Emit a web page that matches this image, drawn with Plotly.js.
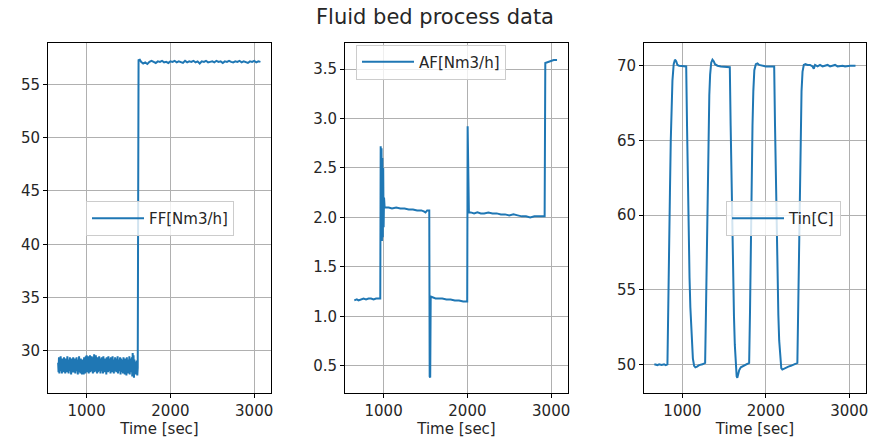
<!DOCTYPE html>
<html>
<head>
<meta charset="utf-8">
<script src="https://cdn.plot.ly/plotly-3.0.1.min.js"></script>
<style>html,body{margin:0;padding:0;background:#fff;}#chart{width:870px;height:438px;}</style>
</head>
<body>
<div id="chart"></div>
<script>
// ---- Data ----
const chartTitle = "Fluid bed process data";
const xAxisTitle = "Time [sec]";
const seriesNames = ["FF[Nm3/h]", "AF[Nm3/h]", "Tin[C]"];
const xTicks = [1000, 2000, 3000];

const ffTime = [
660,665,670,675,680,685,690,695,700,705,710,715,720,725,730,735,740,745,750,755,
760,765,770,775,780,785,790,795,800,805,810,815,820,825,830,835,840,845,850,855,
860,865,870,875,880,885,890,895,900,905,910,915,920,925,930,935,940,945,950,955,
960,965,970,975,980,985,990,995,1000,1005,1010,1015,1020,1025,1030,1035,1040,1045,1050,1055,
1060,1065,1070,1075,1080,1085,1090,1095,1100,1105,1110,1115,1120,1125,1130,1135,1140,1145,1150,1155,
1160,1165,1170,1175,1180,1185,1190,1195,1200,1205,1210,1215,1220,1225,1230,1235,1240,1245,1250,1255,
1260,1265,1270,1275,1280,1285,1290,1295,1300,1305,1310,1315,1320,1325,1330,1335,1340,1345,1350,1355,
1360,1365,1370,1375,1380,1385,1390,1395,1400,1405,1410,1415,1420,1425,1430,1435,1440,1445,1450,1455,
1460,1465,1470,1475,1480,1485,1490,1495,1500,1505,1510,1515,1520,1525,1530,1535,1540,1545,1550,1555,
1560,1565,1570,1575,1580,1585,1590,1595,1600,1605,1610,
1620,1635,1650,1675,1700,1725,1750,1775,1800,1825,1850,1875,1900,1925,1950,1975,2000,2025,2050,2075,2100,2125,2150,2175,2200,2225,2250,2275,2300,2325,2350,2375,2400,2425,2450,2475,2500,2525,2550,2575,2600,2625,2650,2675,2700,2725,2750,2775,2800,2825,2850,2875,2900,2925,2950,2975,3000,3025,3050,3075];
const ffValues = [
28.9,28.0,29.4,27.9,29.2,28.3,29.5,28.1,28.8,27.9,29.3,28.2,29.0,28.0,29.4,28.4,29.1,27.9,29.3,28.1,
28.8,28.0,29.5,28.3,29.0,27.9,29.2,28.1,29.4,28.2,28.9,27.8,29.3,28.0,29.1,28.4,29.4,28.0,28.9,28.2,
29.3,27.9,29.0,28.1,29.4,28.3,28.8,27.8,29.2,28.0,29.5,28.2,29.0,27.9,29.3,28.1,28.9,27.8,29.2,28.3,
29.0,27.8,29.4,28.1,28.8,27.9,29.5,28.2,29.6,28.0,29.3,28.3,29.5,27.9,29.1,28.2,29.6,28.0,29.2,28.1,
29.5,28.3,29.0,27.9,29.4,28.2,29.7,28.0,29.3,28.1,29.6,28.4,29.2,27.9,29.4,28.0,29.1,28.2,29.5,28.1,
29.3,27.9,29.0,28.3,29.4,28.1,29.2,27.9,29.5,28.2,29.0,28.0,29.3,28.3,29.1,27.8,29.4,28.2,29.2,28.0,
29.5,28.1,29.0,28.3,29.3,27.9,29.4,28.2,29.1,28.0,29.5,28.3,29.2,27.9,29.0,28.1,29.4,28.2,29.3,28.0,
29.1,28.2,29.5,27.9,29.2,28.1,29.0,28.3,29.4,27.8,29.3,28.1,29.2,28.0,28.9,27.9,29.4,28.2,29.1,27.8,
29.3,28.0,29.0,27.7,29.4,28.1,29.2,27.9,28.9,28.2,29.5,27.8,29.3,28.0,29.1,28.2,29.4,27.6,29.8,27.7,
29.6,27.5,29.2,28.0,29.0,27.8,28.6,27.9,29.1,27.7,28.4,
57.25,57.3,57.1,56.95,57.05,56.9,57.1,57.2,57.1,57.0,57.15,57.1,57.2,57.05,57.1,57.0,57.15,57.1,57.2,57.05,57.15,57.1,57.0,57.2,57.05,57.15,57.1,57.2,57.05,57.15,56.95,57.15,57.1,57.2,57.05,57.1,57.15,57.05,57.2,57.1,57.15,57.0,57.15,57.1,57.2,57.1,57.05,57.15,57.1,57.2,57.05,57.15,57.1,57.0,57.15,57.1,57.2,57.05,57.15,57.1];

const afTime = [650,680,700,730,760,790,820,850,880,910,940,960,965,970,975,980,985,990,995,1000,1005,1012,1030,1060,1100,1150,1200,1250,1300,1350,1400,1450,1480,1500,1520,1545,1550,1556,1562,1590,1620,1660,1700,1750,1800,1850,1900,1950,1990,1998,2003,2018,2040,2080,2120,2160,2200,2250,2300,2350,2400,2450,2500,2550,2600,2650,2700,2750,2800,2850,2900,2922,2930,2960,2990,3030,3070];
const afValues = [1.16,1.17,1.16,1.17,1.18,1.17,1.18,1.18,1.17,1.18,1.18,1.18,2.72,1.85,2.70,1.76,2.60,1.80,2.50,1.90,2.20,2.10,2.10,2.10,2.09,2.10,2.09,2.09,2.08,2.08,2.07,2.07,2.06,2.05,2.07,2.07,0.39,0.38,1.20,1.19,1.18,1.18,1.18,1.17,1.17,1.16,1.16,1.15,1.15,1.15,2.92,2.05,2.05,2.04,2.05,2.04,2.04,2.05,2.04,2.04,2.03,2.03,2.02,2.03,2.02,2.01,2.01,2.00,2.01,2.01,2.01,2.01,3.56,3.57,3.58,3.59,3.59];

const tinTime = [663,700,720,750,780,800,820,830,840,850,860,870,880,895,910,925,940,960,990,1020,1045,1055,1065,1075,1085,1095,1105,1115,1125,1140,1155,1175,1200,1240,1272,1282,1292,1302,1312,1322,1332,1345,1360,1375,1390,1420,1460,1500,1540,1568,1578,1588,1598,1608,1618,1628,1640,1650,1658,1668,1680,1700,1730,1760,1800,1810,1820,1830,1840,1850,1862,1880,1900,1920,1950,2000,2050,2100,2110,2120,2130,2140,2150,2160,2172,2185,2198,2215,2240,2270,2300,2330,2360,2378,2388,2398,2408,2418,2428,2440,2455,2475,2500,2530,2560,2575,2590,2620,2650,2680,2710,2740,2770,2800,2830,2860,2890,2920,2950,2980,3010,3040,3075];
const tinValues = [50.0,49.95,50.0,49.95,50.0,49.95,50.0,53.0,57.5,61.5,65.0,67.5,69.0,70.1,70.4,70.3,70.05,70.0,70.0,70.0,69.95,66.0,62.0,58.5,55.8,53.8,52.3,51.1,50.4,49.9,49.8,49.85,49.95,50.0,50.1,53.5,58.0,62.0,65.5,68.0,69.4,70.2,70.4,70.3,70.1,70.0,69.95,69.95,69.95,69.9,66.0,62.0,58.5,55.5,53.2,51.3,49.9,49.2,49.1,49.4,49.6,49.8,49.9,50.0,50.1,53.5,58.5,62.5,66.0,68.3,69.7,70.1,70.15,70.05,70.0,69.95,69.95,69.95,66.0,62.0,58.5,55.6,53.3,51.6,50.3,49.75,49.65,49.7,49.8,49.85,49.9,49.95,50.05,50.1,54.0,58.5,62.5,66.0,68.3,69.6,70.05,70.1,70.05,70.05,69.95,69.8,70.05,69.95,70.05,69.95,70.0,70.05,69.95,70.0,70.05,69.95,70.0,70.0,69.95,70.0,70.0,70.0,70.0];

// ---- Styling / layout ----
const blue = "#1f77b4";
const W = 870, H = 438;
const yDom = [1 - 393 / H, 1 - 43 / H];
const font = "DejaVu Sans, sans-serif";
const txt = "#262626";

function xAx(l, r, anchor) {
  return {
    domain: [l / W, r / W], anchor: anchor, range: [539, 3201],
    tickvals: xTicks, ticks: "outside", ticklen: 4, tickcolor: "#000",
    showline: true, mirror: true, linecolor: "#000", linewidth: 1,
    showgrid: true, gridcolor: "#b0b0b0", gridwidth: 1, zeroline: false,
    tickfont: {family: font, size: 15, color: txt},
    title: {text: xAxisTitle, font: {family: font, size: 15, color: txt}, standoff: 4},
    fixedrange: true
  };
}
function yAx(range, dtick, fmt, anchor) {
  return {
    domain: yDom, anchor: anchor, range: range, dtick: dtick, tick0: 0, tickformat: fmt,
    ticks: "outside", ticklen: 4, tickcolor: "#000",
    showline: true, mirror: true, linecolor: "#000", linewidth: 1,
    showgrid: true, gridcolor: "#b0b0b0", gridwidth: 1, zeroline: false,
    tickfont: {family: font, size: 15, color: txt}, fixedrange: true
  };
}
function leg(x, y) {
  return {
    x: x, y: y, xanchor: "left", yanchor: "middle",
    bgcolor: "rgba(255,255,255,0.8)", bordercolor: "#cccccc", borderwidth: 1,
    font: {family: font, size: 15, color: txt}, itemwidth: 52
  };
}

const traces = [
  {x: ffTime, y: ffValues, xaxis: "x", yaxis: "y", type: "scatter", mode: "lines",
   name: seriesNames[0], line: {color: blue, width: 2}, legend: "legend"},
  {x: afTime, y: afValues, xaxis: "x2", yaxis: "y2", type: "scatter", mode: "lines",
   name: seriesNames[1], line: {color: blue, width: 2}, legend: "legend2"},
  {x: tinTime, y: tinValues, xaxis: "x3", yaxis: "y3", type: "scatter", mode: "lines",
   name: seriesNames[2], line: {color: blue, width: 2}, legend: "legend3"}
];

const layout = {
  width: W, height: H,
  margin: {l: 0, r: 0, t: 0, b: 0},
  paper_bgcolor: "#fff", plot_bgcolor: "#fff",
  showlegend: true,
  title: {text: chartTitle, x: 0.5, xanchor: "center", y: 1 - 17 / H, yanchor: "middle",
          font: {family: font, size: 21, color: txt}},
  xaxis: xAx(48, 271, "y"),
  yaxis: yAx([26.06, 58.87], 5, "d", "x"),
  xaxis2: xAx(345, 568, "y2"),
  yaxis2: yAx([0.224, 3.763], 0.5, ".1f", "x2"),
  xaxis3: xAx(644, 866, "y3"),
  yaxis3: yAx([48.08, 71.52], 5, "d", "x3"),
  legend: leg(86 / W, 1 - 218.5 / H),
  legend2: leg(356 / W, 1 - 62 / H),
  legend3: leg(726 / W, 1 - 218.5 / H)
};

Plotly.newPlot("chart", traces, layout, {displayModeBar: false, staticPlot: true});
</script>
</body>
</html>
